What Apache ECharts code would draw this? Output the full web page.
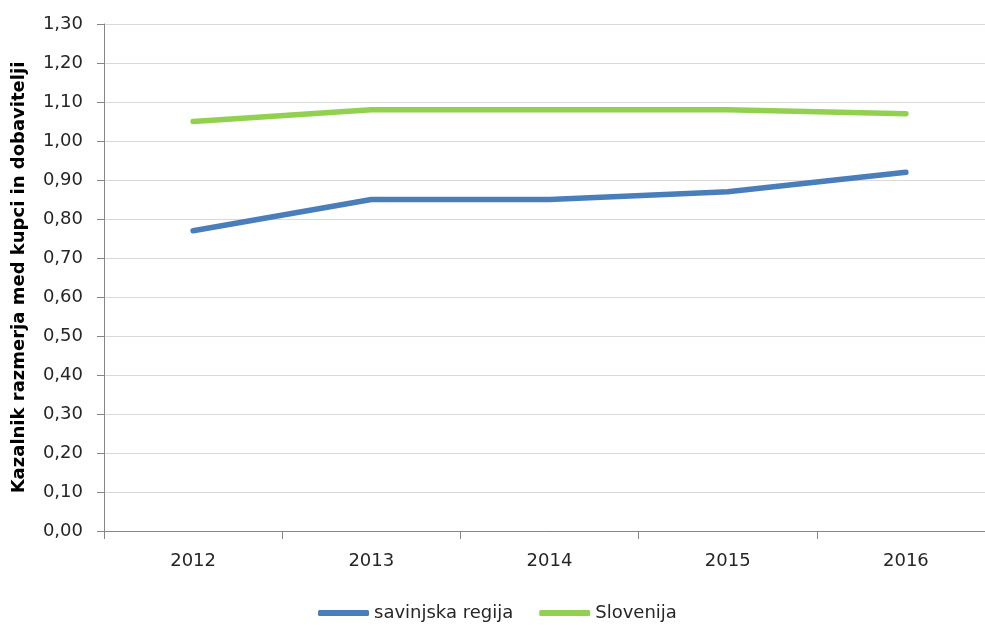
<!DOCTYPE html>
<html>
<head>
<meta charset="utf-8">
<script src="https://cdn.jsdelivr.net/npm/echarts@6/dist/echarts.min.js"></script>
<style>
html,body{margin:0;padding:0;background:#fff;}
#c{width:985px;height:625px;}
</style>
</head>
<body>
<div id="c"></div>
<script>
const years = ['2012', '2013', '2014', '2015', '2016'];
const savinjska = [0.77, 0.85, 0.85, 0.87, 0.92];
const slovenija = [1.05, 1.08, 1.08, 1.08, 1.07];
const seriesNames = ['savinjska regija', 'Slovenija'];
const yTitle = 'Kazalnik razmerja med kupci in dobavitelji';

const chart = echarts.init(document.getElementById('c'), null, {renderer: 'canvas'});
const font = 'DejaVu Sans';
chart.setOption({
  animation: false,
  backgroundColor: '#fff',
  grid: {left: 104, right: -10, top: 24, bottom: 94, containLabel: false, outerBoundsMode: 'none'},
  legend: {
    data: seriesNames,
    bottom: -2,
    left: 313,
    icon: 'roundRect',
    itemWidth: 51,
    itemHeight: 6,
    itemGap: 26,
    textStyle: {fontFamily: font, fontSize: 18, color: '#262626'}
  },
  xAxis: {
    type: 'category',
    data: years,
    boundaryGap: true,
    axisLine: {show: true, lineStyle: {color: '#868686', width: 1}},
    axisTick: {show: true, length: 8, lineStyle: {color: '#868686'}},
    axisLabel: {fontFamily: font, fontSize: 18, color: '#262626', margin: 21},
    splitLine: {show: false}
  },
  yAxis: {
    type: 'value',
    min: 0,
    max: 1.3,
    interval: 0.1,
    name: yTitle,
    nameLocation: 'middle',
    nameGap: 76,
    nameRotate: 90,
    nameTextStyle: {fontFamily: font, fontSize: 18, fontWeight: 'bold', color: '#000'},
    axisLine: {show: true, lineStyle: {color: '#868686', width: 1}},
    axisTick: {show: true, length: 7, lineStyle: {color: '#868686'}},
    axisLabel: {
      fontFamily: font, fontSize: 18, color: '#262626', margin: 21,
      formatter: v => v.toFixed(2).replace('.', ',')
    },
    splitLine: {show: true, lineStyle: {color: '#d9d9d9', width: 1}}
  },
  series: [
    {
      name: seriesNames[0], type: 'line', data: savinjska,
      symbol: 'none', color: '#4A7EBB',
      lineStyle: {width: 5.5, color: '#4A7EBB', cap: 'round', join: 'round'}
    },
    {
      name: seriesNames[1], type: 'line', data: slovenija,
      symbol: 'none', color: '#92D050',
      lineStyle: {width: 5.5, color: '#92D050', cap: 'round', join: 'round'}
    }
  ]
});
</script>
</body>
</html>
